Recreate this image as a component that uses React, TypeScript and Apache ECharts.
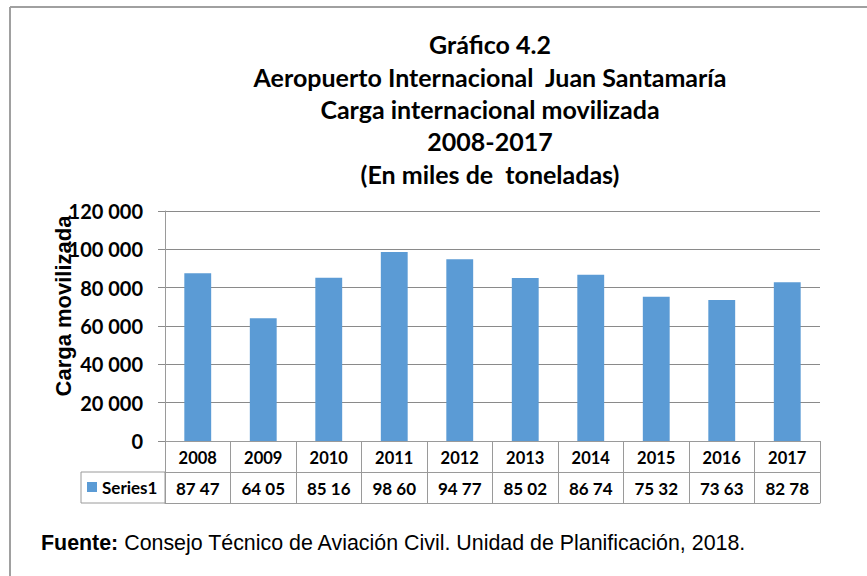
import React, { useEffect, useRef } from "react";
import * as echarts from "echarts";

const titleLines = [
  "Gráfico 4.2",
  "Aeropuerto Internacional  Juan Santamaría",
  "Carga internacional movilizada",
  "2008-2017",
  "(En miles de  toneladas)",
];
const years = ["2008", "2009", "2010", "2011", "2012", "2013", "2014", "2015", "2016", "2017"];
const seriesName = "Series1";
const values = [87470, 64050, 85160, 98600, 94770, 85020, 86740, 75320, 73630, 82780];
const yTicks = [0, 20000, 40000, 60000, 80000, 100000, 120000];
const yAxisTitle = "Carga movilizada";
const sourceBold = "Fuente:";
const sourceText = " Consejo Técnico de Aviación Civil. Unidad de Planificación, 2018.";

const fmt = (v: number) => String(v).replace(/\B(?=(\d{3})+(?!\d))/g, " ");
// the data table in the source shows the cells truncated by one digit
const tableLabels = values.map((v) => fmt(v).slice(0, -1));

const GRAY = "#9a9a9a";
const GRID_GRAY = "#8a8a8a";
const BLUE = "#5b9bd5";
const FONT = "Lato";

export default function App() {
  const ref = useRef<HTMLDivElement>(null);
  useEffect(() => {
    document.body.style.margin = "0";
    const chart = echarts.init(ref.current!, null, { renderer: "svg" });
    const gridLeft = 165;
    const gridRight = 47;
    const gridTop = 211;
    const gridBottom = 135;
    const rowH = 31;
    const axisY = 576 - gridBottom;
    chart.setOption({
      animation: false,
      backgroundColor: "#ffffff",
      title: {
        text: titleLines.join("\n"),
        left: 485,
        top: 23,
        textAlign: "center",
        textStyle: {
          fontFamily: FONT,
          fontWeight: "bold",
          fontSize: 25,
          lineHeight: 32.4,
          color: "#000",
        },
      },
      grid: { left: gridLeft, right: gridRight, top: gridTop, bottom: gridBottom, containLabel: false },
      xAxis: [
        {
          type: "category",
          data: years,
          position: "bottom",
          axisLine: { show: true, lineStyle: { color: GRAY, width: 1 } },
          axisTick: { show: true, length: rowH, interval: 0, alignWithLabel: false, lineStyle: { color: GRAY } },
          axisLabel: {
            interval: 0,
            margin: 8,
            fontFamily: FONT,
            fontWeight: "bold",
            fontSize: 16.5,
            color: "#000",
          },
          splitLine: { show: false },
        },
        {
          type: "category",
          data: years,
          position: "bottom",
          offset: rowH,
          axisLine: { show: true, lineStyle: { color: GRAY, width: 1 } },
          axisTick: { show: true, length: rowH, interval: 0, alignWithLabel: false, lineStyle: { color: GRAY } },
          axisLabel: {
            interval: 0,
            margin: 8,
            fontFamily: FONT,
            fontWeight: "bold",
            fontSize: 17,
            color: "#000",
            formatter: (_v: string, i: number) => tableLabels[i],
          },
          splitLine: { show: false },
        },
        {
          type: "category",
          data: years,
          position: "bottom",
          offset: rowH * 2,
          axisLine: { show: true, lineStyle: { color: GRAY, width: 1 } },
          axisTick: { show: false },
          axisLabel: { show: false },
          splitLine: { show: false },
        },
      ],
      yAxis: {
        type: "value",
        min: 0,
        max: 120000,
        interval: 20000,
        axisLine: { show: true, lineStyle: { color: GRAY, width: 1 } },
        axisTick: { show: true, length: 7, lineStyle: { color: GRID_GRAY } },
        axisLabel: {
          margin: 22,
          fontFamily: FONT,
          fontWeight: "bold",
          fontSize: 20,
          color: "#000",
          formatter: (v: number) => (yTicks.includes(v) ? fmt(v) : ""),
        },
        splitLine: { show: true, lineStyle: { color: GRID_GRAY, width: 1 } },
      },
      series: [
        {
          name: seriesName,
          type: "bar",
          xAxisIndex: 0,
          data: values,
          barWidth: "41%",
          itemStyle: { color: BLUE },
        },
      ],
      graphic: [
        // outer chart frame
        { type: "line", shape: { x1: 10, y1: 7, x2: 867, y2: 7 }, style: { stroke: "#a0a0a0", lineWidth: 2 } },
        { type: "line", shape: { x1: 10, y1: 7, x2: 10, y2: 576 }, style: { stroke: "#a0a0a0", lineWidth: 2 } },
        // legend key cell of the data table
        {
          type: "rect",
          shape: { x: 81, y: axisY + rowH, width: gridLeft - 81, height: rowH },
          style: { fill: "none", stroke: GRAY, lineWidth: 1 },
        },
        {
          type: "rect",
          shape: { x: 87, y: axisY + rowH + 10, width: 10, height: 10 },
          style: { fill: BLUE },
        },
        {
          type: "text",
          x: 102,
          y: axisY + rowH + rowH / 2,
          style: {
            text: seriesName,
            fontFamily: FONT,
            fontWeight: "bold",
            fontSize: 17,
            fill: "#000",
            textVerticalAlign: "middle",
          },
        },
        // y axis title
        {
          type: "text",
          x: 63,
          y: 306,
          rotation: Math.PI / 2,
          style: {
            text: yAxisTitle,
            fontFamily: "Liberation Sans",
            fontWeight: "bold",
            fontSize: 22,
            fill: "#000",
            textAlign: "center",
            textVerticalAlign: "middle",
          },
        },
        // source note
        {
          type: "text",
          x: 41,
          y: 543,
          style: {
            text: `{b|${sourceBold}}{r|${sourceText}}`,
            rich: {
              b: { fontFamily: "Liberation Sans", fontWeight: "bold", fontSize: 21.4, fill: "#000" },
              r: { fontFamily: "Liberation Sans", fontSize: 21.4, fill: "#000" },
            },
            textVerticalAlign: "middle",
          },
        },
      ],
    });
    return () => chart.dispose();
  }, []);
  return (
    <div
      ref={ref}
      style={{ position: "fixed", left: 0, top: 0, width: 867, height: 576, background: "#fff" }}
    />
  );
}
